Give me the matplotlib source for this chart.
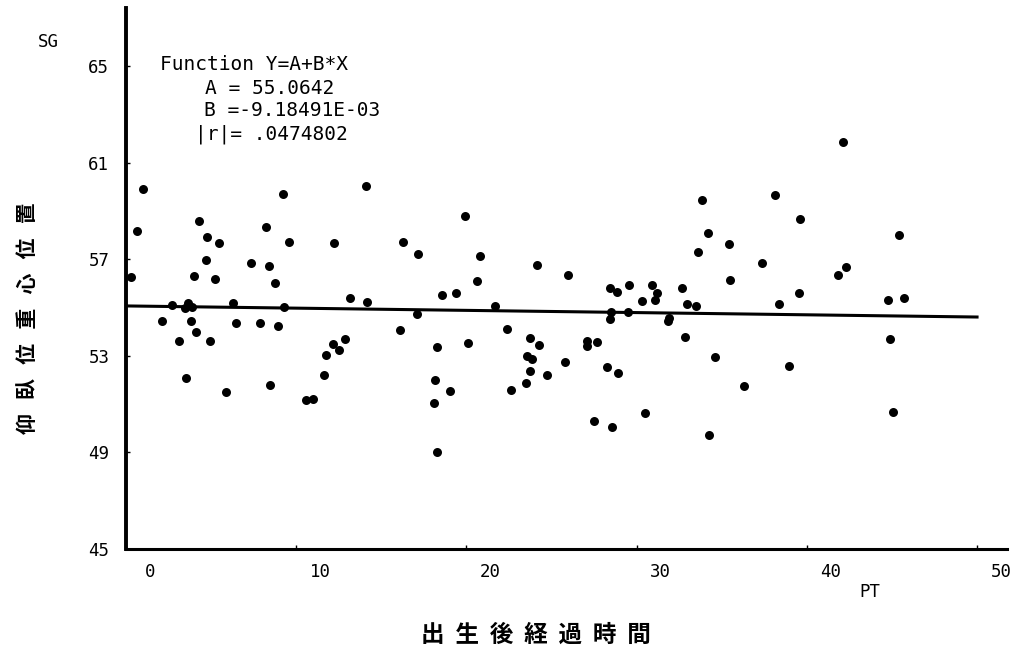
import matplotlib
matplotlib.use("Agg")
import matplotlib.pyplot as plt
from matplotlib.transforms import ScaledTranslation
import numpy as np

# ---- data (PT = time after birth, SG = centre-of-gravity position) ----
pt_x = [0.28, 0.66, 1.01, 2.13, 2.70, 3.11, 3.53, 3.47, 3.66, 3.86, 3.80, 4.00, 4.10,
        4.29, 4.78, 4.72, 4.92, 5.23, 5.46, 5.88, 6.29, 6.48, 7.33, 7.87, 8.24, 8.42,
        8.44, 8.77, 8.95, 9.24, 9.30, 9.59, 10.56, 10.97, 11.65, 11.73, 12.16, 12.51,
        12.22, 12.88, 13.14, 14.10, 14.14, 16.12, 16.29, 17.08, 17.16, 18.26, 18.16,
        18.10, 18.27, 18.58, 19.05, 19.37, 19.90, 20.11, 20.61, 20.82, 21.70, 22.40,
        22.60, 23.50, 23.74, 23.54, 23.85, 23.75, 24.28, 24.17, 24.75, 25.78, 25.95,
        27.07, 27.07, 27.66, 27.51, 28.28, 28.44, 28.48, 28.44, 28.87, 28.91, 28.57,
        29.55, 29.51, 30.30, 30.48, 30.89, 31.22, 31.08, 31.89, 31.86, 32.69, 32.94,
        32.86, 33.47, 33.63, 33.86, 34.20, 34.25, 34.62, 35.41, 35.49, 36.33, 37.39,
        38.13, 38.38, 38.97, 39.54, 39.62, 42.11, 41.85, 42.30, 44.75, 44.87, 45.06,
        45.42, 45.73]
sg_y = [56.28, 58.16, 59.89, 54.43, 55.12, 53.63, 52.09, 54.97, 55.17, 55.03, 54.43, 56.29, 53.99,
        58.59, 57.93, 56.98, 53.63, 56.19, 57.66, 51.49, 55.20, 54.35, 56.84, 54.36, 58.35, 56.72,
        51.80, 56.01, 54.23, 59.70, 55.03, 57.70, 51.17, 51.22, 52.19, 53.03, 53.50, 53.23,
        57.67, 53.71, 55.38, 60.04, 55.24, 54.08, 57.72, 54.73, 57.22, 53.38, 52.00,
        51.03, 49.00, 55.51, 51.55, 55.60, 58.80, 53.53, 56.10, 57.12, 55.05, 54.12,
        51.60, 51.89, 52.38, 53.00, 52.88, 53.74, 53.43, 56.75, 52.22, 52.73, 56.35,
        53.63, 53.42, 53.57, 50.30, 52.54, 55.82, 54.83, 54.54, 55.63, 52.29, 50.04,
        55.92, 54.83, 55.28, 50.62, 55.94, 55.60, 55.32, 54.58, 54.43, 55.82, 55.13,
        53.77, 55.07, 57.31, 59.45, 58.08, 49.73, 52.95, 57.64, 56.14, 51.75, 56.84,
        59.67, 55.14, 52.58, 55.61, 58.65, 61.84, 56.35, 56.68, 55.30, 53.68, 50.67,
        58.00, 55.38]

x_ticks = [0, 10, 20, 30, 40, 50]
y_ticks = [45, 49, 53, 57, 61, 65]

coef_A = 55.0642
coef_B = -9.18491e-03
r_abs = 0.0474802

x_label = "出生後経過時間"
y_label = "仰臥位重心位置"

plt.rcParams["font.family"] = ["DejaVu Sans Mono", "Noto Sans CJK JP"]

W, H = 1013, 656
fig = plt.figure(figsize=(W / 100, H / 100), dpi=100)
fig.patch.set_facecolor("white")
ax = fig.add_axes([126 / W, 107 / H, 881 / W, 541 / H])

ax.scatter(pt_x, sg_y, s=42, color="black", linewidths=0, zorder=3)
line_x = np.array([0, 50])
ax.plot(line_x, coef_A + coef_B * line_x, color="black", lw=2.2, zorder=2)

ax.set_xlim(0, 51.76)
ax.set_ylim(45, 67.4)
for side in ("top", "right"):
    ax.spines[side].set_visible(False)
ax.spines["left"].set_linewidth(2.8)
ax.spines["bottom"].set_linewidth(2.2)

ax.set_xticks(x_ticks)
ax.set_yticks(y_ticks)
ax.set_xticklabels([str(t) for t in x_ticks])
ax.set_yticklabels([str(t) for t in y_ticks])
ax.tick_params(axis="both", direction="in", length=3, width=1, labelsize=12.5, color="black")
ax.tick_params(axis="x", pad=10)
ax.tick_params(axis="y", pad=12)
for lab in ax.get_xticklabels():
    lab.set_transform(lab.get_transform() + ScaledTranslation(0.24, 0, fig.dpi_scale_trans))

# axis captions
ax.set_ylabel("   ".join(y_label), family=["Noto Sans CJK JP"], fontsize=15, fontweight="bold")
ax.yaxis.set_label_coords((28 - 126) / 881, (549 - 318) / 541)
ax.yaxis.label.set_va("center")
ax.set_xlabel("  ".join(x_label), family=["Noto Sans CJK JP"], fontsize=17, fontweight="bold")
ax.xaxis.set_label_coords((536 - 126) / 881, (549 - 635) / 541)
ax.xaxis.label.set_va("center")

fig.text(48 / W, 1 - 42 / H, "SG", fontsize=12.5, ha="center", va="center")
fig.text(870 / W, 1 - 592 / H, "PT", fontsize=12.5, ha="center", va="center")

# regression annotation
r_txt = f"{r_abs:.7f}".lstrip("0")
ann = [
    ("Function Y=A+B*X", 160, 65),
    (f"A = {coef_A}", 205, 88),
    (f"B ={coef_B:.5E}", 204, 111),
    (f"|r|= {r_txt}", 195, 134),
]
for txt, px, py in ann:
    fig.text(px / W, 1 - py / H, txt, fontsize=14, ha="left", va="center")

fig.savefig("out.png", dpi=100, facecolor="white")
